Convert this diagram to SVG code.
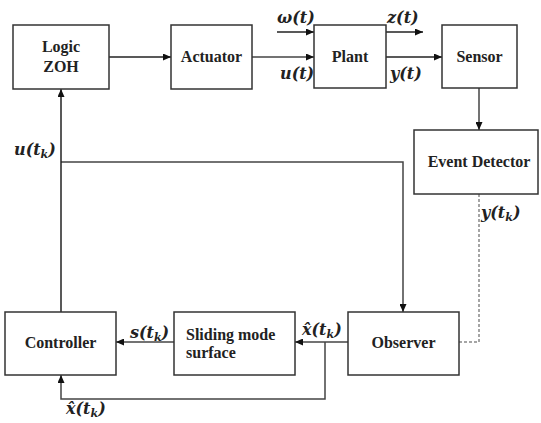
<svg xmlns="http://www.w3.org/2000/svg" width="541" height="423" viewBox="0 0 541 423">
<style>
.box{fill:#fff;stroke:#333;stroke-width:1.5}
.ln{fill:none;stroke:#222;stroke-width:1.5}
.gl{fill:none;stroke:#444;stroke-width:1.5}
.dash{fill:none;stroke:#888;stroke-width:1.5;stroke-dasharray:3 2}
</style>
<defs>
<marker id="ah" markerWidth="8" markerHeight="7" refX="8" refY="3.5" orient="auto" markerUnits="userSpaceOnUse">
<path d="M0,0 L8,3.5 L0,7 Z" fill="#111"/>
</marker>
</defs>
<rect width="541" height="423" fill="#fff"/>
<g id="connectors">
<line class="ln" x1="109" y1="57" x2="171" y2="57" marker-end="url(#ah)"/>
<line class="gl" x1="252" y1="57" x2="314" y2="57" marker-end="url(#ah)"/>
<line class="ln" x1="277" y1="32" x2="314" y2="32" marker-end="url(#ah)"/>
<line class="ln" x1="386" y1="32" x2="423" y2="32" marker-end="url(#ah)"/>
<line class="ln" x1="386" y1="57" x2="442" y2="57" marker-end="url(#ah)"/>
<line class="gl" x1="479" y1="88" x2="479" y2="130" marker-end="url(#ah)"/>
<polyline class="dash" points="479,194 479,342 459,342"/>
<polyline class="gl" points="61,162 403,162 403,312" marker-end="url(#ah)"/>
<line class="ln" x1="61" y1="312" x2="61" y2="89" marker-end="url(#ah)"/>
<line class="gl" x1="348" y1="342" x2="295" y2="342" marker-end="url(#ah)"/>
<line class="gl" x1="174" y1="342" x2="116" y2="342" marker-end="url(#ah)"/>
<polyline class="gl" points="325,342 325,399 61,399 61,375" marker-end="url(#ah)"/>
</g>
<g font-family="'Liberation Serif', 'DejaVu Serif', serif" font-weight="bold" font-size="16" fill="#222">
<g id="logic-zoh"><rect class="box" x="13" y="25" width="96" height="64"/>
<text x="61" y="52" text-anchor="middle">Logic</text>
<text x="61" y="72" text-anchor="middle">ZOH</text></g>
<g id="actuator"><rect class="box" x="171" y="25" width="81" height="64"/>
<text x="211.5" y="62" text-anchor="middle">Actuator</text></g>
<g id="plant"><rect class="box" x="314" y="25" width="72" height="63"/>
<text x="350" y="62" text-anchor="middle">Plant</text></g>
<g id="sensor"><rect class="box" x="442" y="25" width="75" height="63"/>
<text x="479.5" y="62" text-anchor="middle">Sensor</text></g>
<g id="event-detector"><rect class="box" x="414" y="130" width="124" height="64"/>
<text x="479" y="167" text-anchor="middle">Event Detector</text></g>
<g id="controller"><rect class="box" x="5" y="312" width="111" height="63"/>
<text x="60.5" y="348" text-anchor="middle">Controller</text></g>
<g id="sliding-mode-surface"><rect class="box" x="174" y="312" width="121" height="63"/>
<text x="186" y="340">Sliding mode</text>
<text x="186" y="358">surface</text></g>
<g id="observer"><rect class="box" x="348" y="312" width="111" height="63"/>
<text x="403.5" y="348" text-anchor="middle">Observer</text></g>
</g>
<g id="labels" font-family="'DejaVu Serif', 'Liberation Serif', serif" font-weight="bold" font-style="italic" font-size="16" fill="#222">
<text x="277" y="23">ω(t)</text>
<text x="387" y="23">z(t)</text>
<text x="280" y="79">u(t)</text>
<text x="390" y="79">y(t)</text>
<text x="14" y="155">u(t<tspan font-size="11" dy="3">k</tspan><tspan dy="-3">)</tspan></text>
<text x="481" y="218">y(t<tspan font-size="11" dy="3">k</tspan><tspan dy="-3">)</tspan></text>
<text x="130" y="338">s(t<tspan font-size="11" dy="3">k</tspan><tspan dy="-3">)</tspan></text>
<text x="302" y="335">x̂(t<tspan font-size="11" dy="3">k</tspan><tspan dy="-3">)</tspan></text>
<text x="66" y="414">x̂(t<tspan font-size="11" dy="3">k</tspan><tspan dy="-3">)</tspan></text>
</g>
</svg>
